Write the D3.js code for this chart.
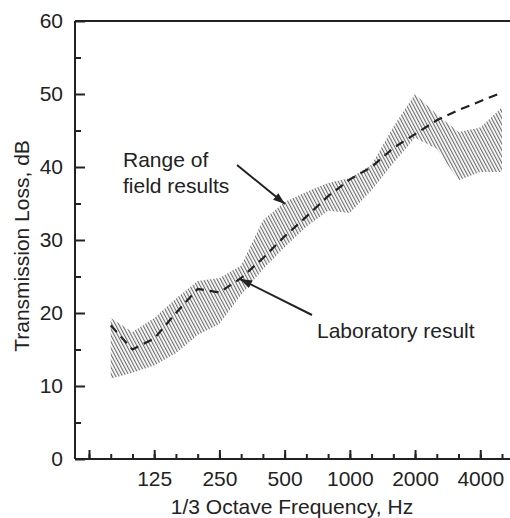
<!DOCTYPE html>
<html>
<head>
<meta charset="utf-8">
<script src="https://cdn.jsdelivr.net/npm/d3@7"></script>
<style>
  body { margin: 0; background: #fff; }
  text { font-family: "Liberation Sans", Arial, Helvetica, sans-serif; fill: #222; }
</style>
</head>
<body>
<script>
// 1/3 octave bands on the axis
var freqBands = ["63","80","100","125","160","200","250","315","400","500","630","800","1000","1250","1600","2000","2500","3150","4000","5000"];
var majorBands = ["63","125","250","500","1000","2000","4000"];
var labeledBands = ["125","250","500","1000","2000","4000"];
var yTicks = [0,10,20,30,40,50,60];
var yMinorTicks = [5,15,25,35,45,55];

// data bands (80 Hz .. 5000 Hz)
var dataBands = ["80","100","125","160","200","250","315","400","500","630","800","1000","1250","1600","2000","2500","3150","4000","5000"];
var fieldUpper = [19.3,17.4,19.3,22,24.4,24.8,26.5,32.7,35.2,36.6,37.8,38.5,40.3,45.5,50,47.2,44.8,45.4,48.2];
var fieldLower = [11,11.8,12.8,14.5,17,18.5,22.5,26,29,31.8,34,33.7,36.8,40.5,44,42.5,38.2,39.3,39.3];
var labResult = [18.3,15,16.5,20,23.3,22.8,24.8,27.5,30.5,33.2,36,38.3,40,42.6,44.5,46.4,47.8,49,50.2];

var svgWidth = 510, svgHeight = 518;
var plotLeft = 75, plotTop = 21, plotBottom = 459, plotRight = 510;
var fontSize = "21px";

var svg = d3.select("body").append("svg")
    .attr("width", svgWidth)
    .attr("height", svgHeight);

var defs = svg.append("defs");
// hatch for the field range
defs.append("pattern")
    .attr("id", "hatch")
    .attr("patternUnits", "userSpaceOnUse")
    .attr("width", 3)
    .attr("height", 3)
    .attr("patternTransform", "rotate(-28)")
  .append("line")
    .attr("x1", 0.6).attr("y1", 0)
    .attr("x2", 0.6).attr("y2", 3)
    .attr("stroke", "#666")
    .attr("stroke-width", 1.1);

defs.append("marker")
    .attr("id", "arrow")
    .attr("viewBox", "0 0 10 10")
    .attr("refX", 10).attr("refY", 5)
    .attr("markerWidth", 12).attr("markerHeight", 12)
    .attr("markerUnits", "userSpaceOnUse")
    .attr("orient", "auto")
  .append("path")
    .attr("d", "M0,1.5 L10,5 L0,8.5 Z")
    .attr("fill", "#222");

var xScale = d3.scalePoint()
    .domain(freqBands)
    .range([89, 502]);
var yScale = d3.scaleLinear()
    .domain([0, 60])
    .range([plotBottom, plotTop]);

var rows = dataBands.map(function(f, i) {
  return {f: f, hi: fieldUpper[i], lo: fieldLower[i], lab: labResult[i]};
});

// field range band
var area = d3.area()
    .x(function(d) { return xScale(d.f); })
    .y0(function(d) { return yScale(d.lo); })
    .y1(function(d) { return yScale(d.hi); });
svg.append("path")
    .datum(rows)
    .attr("d", area)
    .attr("fill", "url(#hatch)");

// laboratory result
var line = d3.line()
    .x(function(d) { return xScale(d.f); })
    .y(function(d) { return yScale(d.lab); });
svg.append("path")
    .datum(rows)
    .attr("d", line)
    .attr("fill", "none")
    .attr("stroke", "#222")
    .attr("stroke-width", 2.2)
    .attr("stroke-dasharray", "9,6");

// frame
var frame = svg.append("g").attr("stroke", "#222").attr("stroke-width", 2);
frame.append("line").attr("x1", plotLeft).attr("x2", plotRight).attr("y1", plotTop).attr("y2", plotTop);
frame.append("line").attr("x1", plotLeft).attr("x2", plotLeft).attr("y1", plotTop).attr("y2", plotBottom);
frame.append("line").attr("x1", plotLeft).attr("x2", plotRight).attr("y1", plotBottom).attr("y2", plotBottom);

// x axis: minor ticks then major ticks with labels
svg.append("g")
    .attr("transform", "translate(0," + plotBottom + ")")
    .call(d3.axisBottom(xScale).tickValues(freqBands).tickSize(-5).tickFormat(""));
svg.append("g")
    .attr("transform", "translate(0," + plotBottom + ")")
    .call(d3.axisBottom(xScale).tickValues(majorBands).tickSize(-9).tickPadding(12)
      .tickFormat(function(d) { return labeledBands.indexOf(d) >= 0 ? d : ""; }));

svg.append("g")
    .attr("transform", "translate(" + plotLeft + ",0)")
    .call(d3.axisLeft(yScale).tickValues(yMinorTicks).tickSize(-6).tickFormat(""));
svg.append("g")
    .attr("transform", "translate(" + plotLeft + ",0)")
    .call(d3.axisLeft(yScale).tickValues(yTicks).tickSize(-10).tickPadding(12));

svg.selectAll(".domain").remove();
svg.selectAll(".tick line").attr("stroke", "#222").attr("stroke-width", 2);
svg.selectAll(".tick text")
    .attr("font-size", fontSize)
    .attr("font-family", "Liberation Sans, Arial, sans-serif")
    .attr("fill", "#222");

// axis titles
svg.append("text")
    .attr("x", 292)
    .attr("y", 514)
    .attr("text-anchor", "middle")
    .attr("font-size", fontSize)
    .text("1/3 Octave Frequency, Hz");
svg.append("text")
    .attr("transform", "translate(29,246) rotate(-90)")
    .attr("text-anchor", "middle")
    .attr("font-size", fontSize)
    .text("Transmission Loss, dB");

// annotations
svg.append("text").attr("x", 123).attr("y", 167).attr("font-size", fontSize).text("Range of");
svg.append("text").attr("x", 123).attr("y", 193).attr("font-size", fontSize).text("field results");
svg.append("line")
    .attr("x1", 237).attr("y1", 165)
    .attr("x2", 285).attr("y2", 204)
    .attr("stroke", "#222").attr("stroke-width", 2)
    .attr("marker-end", "url(#arrow)");

svg.append("text").attr("x", 317).attr("y", 338).attr("font-size", fontSize).text("Laboratory result");
svg.append("line")
    .attr("x1", 312).attr("y1", 315)
    .attr("x2", 240).attr("y2", 279)
    .attr("stroke", "#222").attr("stroke-width", 2)
    .attr("marker-end", "url(#arrow)");
</script>
</body>
</html>
